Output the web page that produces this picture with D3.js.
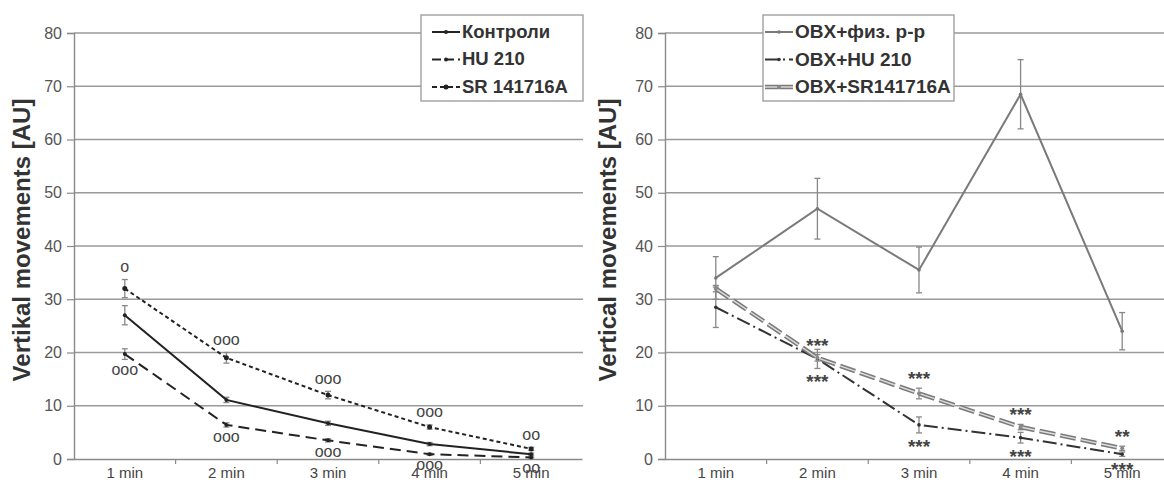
<!DOCTYPE html>
<html>
<head>
<meta charset="utf-8">
<script src="https://cdn.jsdelivr.net/npm/d3@7"></script>
<style>
  body { margin: 0; background: #fff; }
  svg { display: block; font-family: "Liberation Sans", Arial, sans-serif; }
</style>
</head>
<body>
<svg></svg>
<script>
var cats = ["1 min", "2 min", "3 min", "4 min", "5 min"];
var yTicks = [0, 10, 20, 30, 40, 50, 60, 70, 80];

// left panel
var ctrl = [27, 11.1, 6.7, 2.8, 0.9];
var ctrlErr = [1.8, 0.5, 0.4, 0.3, 0.2];
var hu = [19.7, 6.4, 3.5, 0.9, 0.3];
var huErr = [1, 0.4, 0.3, 0.2, 0.1];
var sr = [32, 19, 12, 6, 1.9];
var srErr = [1.7, 1, 0.7, 0.4, 0.3];
var leftAbove = ["o", "ooo", "ooo", "ooo", "oo"];
var leftBelow = ["ooo", "ooo", "ooo", "ooo", "oo"];

// right panel
var obxSal = [34, 47, 35.5, 68.5, 24];
var obxSalErr = [4, 5.7, 4.3, 6.5, 3.5];
var obxHu = [28.5, 18.8, 6.4, 4, 0.9];
var obxHuErr = [3.8, 1.8, 1.5, 1, 0.4];
var obxSr = [32, 19, 12.3, 6, 2];
var obxSrErr = [0.6, 0.6, 1, 0.5, 0.4];
var rightAbove = ["", "***", "***", "***", "**"];
var rightBelow = ["", "***", "***", "***", "***"];

var width = 1164,
  height = 486;

var svg = d3.select("svg").attr("width", width).attr("height", height);

function panel(opt) {
  var x = d3.scaleBand().domain(cats).range([opt.x0, opt.x0 + 508]);
  var y = d3.scaleLinear().domain([0, 80]).range([459, 33]);
  var g = svg.append("g");
  var xEnd = Math.min(opt.x0 + 509, width);

  // gridlines
  g.selectAll(".grid")
    .data(yTicks.slice(1))
    .join("line")
    .attr("x1", opt.x0)
    .attr("x2", xEnd)
    .attr("y1", function (d) { return y(d); })
    .attr("y2", function (d) { return y(d); })
    .attr("stroke", "#9a9a9a")
    .attr("stroke-width", 1.4);

  // y axis
  var yAxis = g.append("g")
    .attr("transform", "translate(" + opt.x0 + ",0)")
    .call(d3.axisLeft(y).tickValues(yTicks).tickSize(7).tickPadding(5));
  yAxis.select(".domain").attr("stroke", "#8a8a8a").attr("stroke-width", 1.4);
  yAxis.selectAll(".tick line").attr("stroke", "#8a8a8a").attr("stroke-width", 1.2);
  yAxis.selectAll("text")
    .attr("fill", "#555")
    .attr("font-size", "16px")
    .attr("font-family", "Liberation Sans, Arial, sans-serif");

  // x axis
  var xAxis = g.append("g")
    .attr("transform", "translate(0,459)")
    .call(d3.axisBottom(x).tickSize(0).tickPadding(8));
  xAxis.select(".domain").attr("stroke", "#8a8a8a").attr("stroke-width", 1.4);
  xAxis.selectAll("text")
    .attr("fill", "#444")
    .attr("font-size", "15px")
    .attr("font-family", "Liberation Sans, Arial, sans-serif");
  g.selectAll(".xtick")
    .data(cats.slice(1))
    .join("line")
    .attr("x1", function (d) { return x(d); })
    .attr("x2", function (d) { return x(d); })
    .attr("y1", 459)
    .attr("y2", 464)
    .attr("stroke", "#8a8a8a")
    .attr("stroke-width", 1.2);

  // axis title
  svg.append("text")
    .attr("transform", "translate(" + opt.titleX + ",240) rotate(-90)")
    .attr("text-anchor", "middle")
    .attr("font-size", "24px")
    .attr("font-weight", "bold")
    .attr("fill", "#333")
    .text(opt.title);

  var line = d3.line()
    .x(function (d, i) { return x(cats[i]) + x.bandwidth() / 2; })
    .y(function (d) { return y(d); });

  opt.series.forEach(function (s) {
    // error bars
    var eb = g.append("g");
    s.values.forEach(function (v, i) {
      var cx = x(cats[i]) + x.bandwidth() / 2;
      var e = s.err[i];
      eb.append("line")
        .attr("x1", cx).attr("x2", cx)
        .attr("y1", y(v - e)).attr("y2", y(v + e))
        .attr("stroke", "#888").attr("stroke-width", 1.3);
      [v - e, v + e].forEach(function (t) {
        eb.append("line")
          .attr("x1", cx - 3).attr("x2", cx + 3)
          .attr("y1", y(t)).attr("y2", y(t))
          .attr("stroke", "#888").attr("stroke-width", 1.3);
      });
    });
    s.strokes.forEach(function (st) {
      g.append("path")
        .datum(s.values)
        .attr("d", line)
        .attr("fill", "none")
        .attr("stroke", st.color)
        .attr("stroke-width", st.w)
        .attr("stroke-dasharray", st.dash || null);
    });
    g.selectAll(null)
      .data(s.values)
      .join("circle")
      .attr("cx", function (d, i) { return x(cats[i]) + x.bandwidth() / 2; })
      .attr("cy", function (d) { return y(d); })
      .attr("r", s.r)
      .attr("fill", s.dot);
  });

  // significance marks, placed past the end of the error bar
  opt.marks.forEach(function (m) {
    g.selectAll(null)
      .data(m.text)
      .join("text")
      .attr("x", function (d, i) { return x(cats[i]) + x.bandwidth() / 2; })
      .attr("y", function (d, i) {
        return y(m.values[i] + m.side * m.err[i]) + m.dy;
      })
      .attr("text-anchor", "middle")
      .attr("dominant-baseline", "middle")
      .attr("font-size", m.size)
      .attr("font-weight", m.bold ? "bold" : "normal")
      .attr("fill", "#444")
      .text(function (d) { return d; });
  });

  // legend
  var lg = svg.append("g");
  lg.append("rect")
    .attr("x", opt.legend.x)
    .attr("y", 15)
    .attr("width", opt.legend.w)
    .attr("height", 86)
    .attr("fill", "#fff")
    .attr("stroke", "#999")
    .attr("stroke-width", 1.3);
  opt.series.forEach(function (s, i) {
    var ly = 32 + i * 27.5;
    s.strokes.forEach(function (st) {
      lg.append("line")
        .attr("x1", opt.legend.x + opt.legend.pad)
        .attr("x2", opt.legend.x + opt.legend.pad + 28)
        .attr("y1", ly).attr("y2", ly)
        .attr("stroke", st.color)
        .attr("stroke-width", st.w)
        .attr("stroke-dasharray", st.legDash || st.dash || null);
    });
    lg.append("circle")
      .attr("cx", opt.legend.x + opt.legend.pad + 14)
      .attr("cy", ly)
      .attr("r", s.r)
      .attr("fill", s.dot);
    lg.append("text")
      .attr("x", opt.legend.x + opt.legend.pad + 30)
      .attr("y", ly + 1)
      .attr("dominant-baseline", "middle")
      .attr("font-size", opt.legend.size)
      .attr("font-weight", "bold")
      .attr("fill", "#333")
      .text(s.name);
  });
}

panel({
  x0: 74,
  titleX: 30,
  title: "Vertikal movements [AU]",
  legend: { x: 421, w: 162, pad: 11, size: "18.5px" },
  series: [
    { name: "Контроли", values: ctrl, err: ctrlErr, r: 2, dot: "#222",
      strokes: [{ color: "#222", w: 2 }] },
    { name: "HU 210", values: hu, err: huErr, r: 2, dot: "#222",
      strokes: [{ color: "#222", w: 2, dash: "11,6", legDash: "9,4" }] },
    { name: "SR 141716A", values: sr, err: srErr, r: 2.5, dot: "#222",
      strokes: [{ color: "#222", w: 2, dash: "4,3", legDash: "5,3" }] }
  ],
  marks: [
    { text: leftAbove, values: sr, err: srErr, side: 1, dy: -12, size: "16px" },
    { text: leftBelow, values: hu, err: huErr, side: -1, dy: 11, size: "16px" }
  ]
});

panel({
  x0: 665,
  titleX: 616,
  title: "Vertical movements [AU]",
  legend: { x: 763, w: 191, pad: 2, size: "19px" },
  series: [
    { name: "OBX+физ. р-р", values: obxSal, err: obxSalErr, r: 1.8, dot: "#777",
      strokes: [{ color: "#7a7a7a", w: 2 }] },
    { name: "OBX+HU 210", values: obxHu, err: obxHuErr, r: 1.8, dot: "#333",
      strokes: [{ color: "#333", w: 2, dash: "14,4,2,4", legDash: "14,4,2,4" }] },
    { name: "OBX+SR141716A", values: obxSr, err: obxSrErr, r: 2, dot: "#888",
      strokes: [
        { color: "#7a7a7a", w: 4.5, dash: "16,5", legDash: "28,0" },
        { color: "#ddd", w: 1.4, dash: "16,5", legDash: "28,0" }
      ] }
  ],
  marks: [
    { text: rightAbove, values: obxSr, err: obxSrErr, side: 1, dy: -8, size: "19px", bold: true },
    { text: rightBelow, values: obxHu, err: obxHuErr, side: -1, dy: 15, size: "19px", bold: true }
  ]
});
</script>
</body>
</html>
